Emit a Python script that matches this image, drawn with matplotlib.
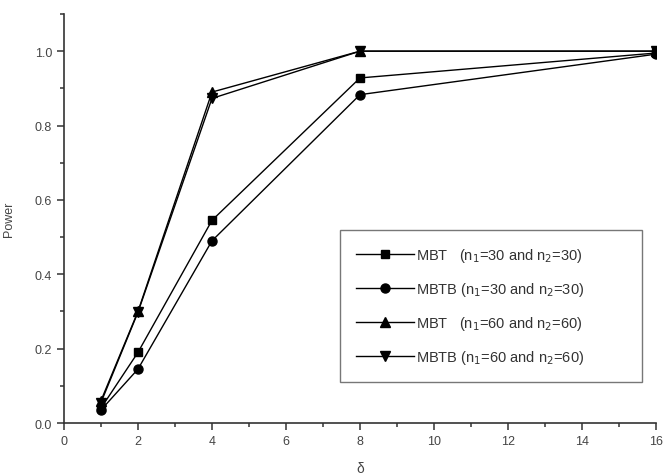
import matplotlib
matplotlib.use("Agg")
import matplotlib.pyplot as plt
from matplotlib.ticker import MultipleLocator

plt.rcParams['font.family'] = ['Liberation Sans', 'DejaVu Sans']

delta = [1, 2, 4, 8, 16]
mbt_30 = [0.040, 0.190, 0.545, 0.928, 0.995]
mbtb_30 = [0.035, 0.145, 0.490, 0.883, 0.992]
mbt_60 = [0.060, 0.300, 0.890, 1.000, 1.000]
mbtb_60 = [0.055, 0.298, 0.873, 1.000, 1.000]

labels = ["MBT   (n$_1$=30 and n$_2$=30)",
          "MBTB (n$_1$=30 and n$_2$=30)",
          "MBT   (n$_1$=60 and n$_2$=60)",
          "MBTB (n$_1$=60 and n$_2$=60)"]

fig = plt.figure(figsize=(6.65, 4.77), dpi=100)
ax = fig.add_axes([0.0962, 0.1111, 0.8903, 0.8575])

ax.plot(delta, mbt_30, color='black', lw=1, marker='s', ms=5.5, label=labels[0])
ax.plot(delta, mbtb_30, color='black', lw=1, marker='o', ms=6.5, label=labels[1])
ax.plot(delta, mbt_60, color='black', lw=1, marker='^', ms=6.5, label=labels[2])
ax.plot(delta, mbtb_60, color='black', lw=1, marker='v', ms=6.5, label=labels[3])

ax.set_xlim(0, 16)
ax.set_ylim(0, 1.1)
ax.xaxis.set_major_locator(MultipleLocator(2))
ax.xaxis.set_minor_locator(MultipleLocator(1))
ax.yaxis.set_minor_locator(MultipleLocator(0.1))
ax.set_yticks([0, 0.2, 0.4, 0.6, 0.8, 1.0])
ax.set_yticklabels(['0.0', '0.2', '0.4', '0.6', '0.8', '1.0'])

for s in ['top', 'right']:
    ax.spines[s].set_visible(False)
for s in ['left', 'bottom']:
    ax.spines[s].set_color('#333333')
    ax.spines[s].set_linewidth(1.2)
ax.tick_params(which='major', direction='out', length=5, width=1.1, colors='#333333',
               labelsize=9, labelcolor='#444444')
ax.tick_params(which='minor', direction='out', length=3, width=1.1, colors='#333333')

ax.set_ylabel('Power', fontsize=9, color='#444444', labelpad=14)
ax.set_xlabel('δ', fontsize=10, color='#444444', labelpad=10)

leg = ax.legend(loc='lower left', bbox_to_anchor=(0.466, 0.1, 0.51, 0.368),
                mode='expand', fontsize=10.5, frameon=True, fancybox=False,
                handlelength=4, handletextpad=0.1, labelspacing=1.1,
                borderpad=1.1, borderaxespad=0)
leg.get_frame().set_edgecolor('#555555')
leg.get_frame().set_linewidth(1.0)
for t in leg.get_texts():
    t.set_color('#333333')

fig.savefig('out.png', dpi=100)
